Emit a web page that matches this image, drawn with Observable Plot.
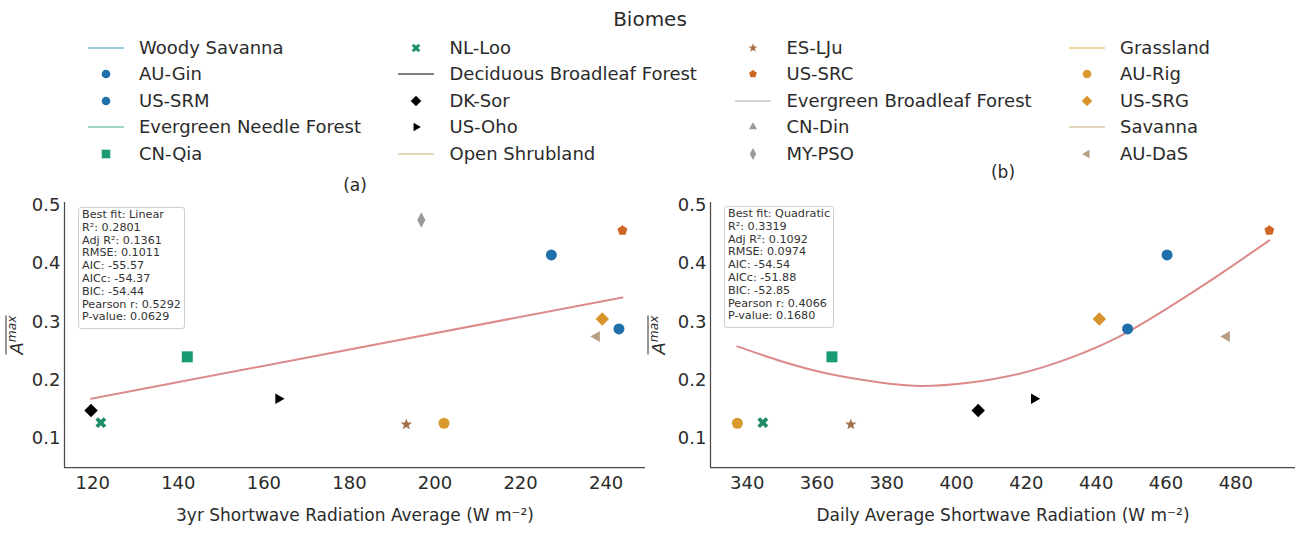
<!DOCTYPE html>
<html><head><meta charset="utf-8">
<script src="https://cdn.jsdelivr.net/npm/d3@7"></script>
<script src="https://cdn.jsdelivr.net/npm/@observablehq/plot@0.6"></script>
<style>
body{margin:0;background:#fff;font-family:"DejaVu Sans",sans-serif;color:#2b2b2b;}
#root{position:relative;width:1297px;height:537px;overflow:hidden;background:#fff;}
.abs{position:absolute;}
.stats{position:absolute;border:1px solid #cfcfcf;border-radius:3px;background:rgba(255,255,255,0.8);font-size:11.2px;line-height:12.8px;color:#333;padding:1px 3px 4px 3px;white-space:pre;}
.ylab{position:absolute;transform:translate(-50%,-50%) rotate(-90deg);font-size:18px;white-space:nowrap;color:#2b2b2b;}
.ylab span{display:inline-block;border-top:1.3px solid #2b2b2b;line-height:1;padding-top:1px;font-style:italic;}
.ylab sup{font-size:0.68em;vertical-align:0.55em;line-height:0;}
</style></head><body><div id="root"></div>
<script>
// ---- data ----
const sites    = ["AU-Gin","US-SRM","CN-Qia","NL-Loo","DK-Sor","US-Oho","ES-LJu","US-SRC","CN-Din","MY-PSO","AU-Rig","US-SRG","AU-DaS"];
const amax     = [0.415, 0.288, 0.240, 0.127, 0.148, 0.168, 0.124, 0.457, null, 0.475, 0.126, 0.305, 0.275];
const sw3yr    = [227.2, 243.0, 142.1, 121.9, 119.6, 163.4, 193.3, 243.8, null, 196.8, 202.1, 239.1, 237.8];
const swDaily  = [460.3, 449.0, 364.3, 344.5, 406.2, 422.2, 369.7, 489.6, null, null, 337.2, 440.9, 477.4];
const siteColors = ["#1f70aa","#1f70aa","#1a9a72","#1f8c69","#000000","#000000","#a2704a","#cf6524","#9a9a9a","#9a9a9a","#d89a2e","#d8932a","#b79e82"];
const siteShapes = ["circle","circle","square","x","diamond","triRight","star","pentagon","triUp","thinDiamond","circle","diamond","triLeft"];

const biomes = ["Woody Savanna","Evergreen Needle Forest","Deciduous Broadleaf Forest","Open Shrubland","Evergreen Broadleaf Forest","Grassland","Savanna"];
const biomeColors = ["#82b6d9","#7fc8b4","#555555","#e6c6a6","#c4c4c4","#efc583","#ddc7a9"];
const legendOrder = ["Woody Savanna","AU-Gin","US-SRM","Evergreen Needle Forest","CN-Qia",
  "NL-Loo","Deciduous Broadleaf Forest","DK-Sor","US-Oho","Open Shrubland",
  "ES-LJu","US-SRC","Evergreen Broadleaf Forest","CN-Din","MY-PSO",
  "Grassland","AU-Rig","US-SRG","Savanna","AU-DaS"];

const fitAx = [119.6, 243.8];
const fitAy = [0.168, 0.342];
const fitBx = [337.2, 350, 364, 378, 390, 404, 418, 432, 446, 460, 475, 489.6];
const fitBy = [0.258, 0.232, 0.210, 0.196, 0.190, 0.196, 0.211, 0.237, 0.273, 0.322, 0.380, 0.440];

const xTicksA = [120,140,160,180,200,220,240];
const xTicksB = [340,360,380,400,420,440,460,480];
const yTicks  = [0.1,0.2,0.3,0.4,0.5];

const statsA = ["Best fit: Linear","R²: 0.2801","Adj R²: 0.1361","RMSE: 0.1011","AIC: -55.57","AICc: -54.37","BIC: -54.44","Pearson r: 0.5292","P-value: 0.0629"];
const statsB = ["Best fit: Quadratic","R²: 0.3319","Adj R²: 0.1092","RMSE: 0.0974","AIC: -54.54","AICc: -51.88","BIC: -52.85","Pearson r: 0.4066","P-value: 0.1680"];

// ---- layout ----
const L = {
  legendColX: [105.5, 416, 753, 1086.5], legendRowY: [48, 74, 100.5, 127, 154], legendR: 4.3,
  panelTop: 165, panelH: 372
};

// ---- symbols ----
function mk(fn){ return {draw(ctx, size){ const r = Math.sqrt(size/Math.PI); fn(ctx, r); }}; }
function poly(c, pts){ c.moveTo(pts[0][0], pts[0][1]); for (let k=1;k<pts.length;k++) c.lineTo(pts[k][0], pts[k][1]); c.closePath(); }
function ngon(R, n, a0){ return d3.range(n).map(k=>{const a=a0+k*2*Math.PI/n; return [R*Math.cos(a), R*Math.sin(a)];}); }
const shapeTypes = {
  circle: mk((c,r)=>{ const R=r*1.0; c.moveTo(R,0); c.arc(0,0,R,0,2*Math.PI); }),
  square: mk((c,r)=>{ const h=r*1.0; c.rect(-h,-h,2*h,2*h); }),
  diamond: mk((c,r)=>{ const h=r*1.22; poly(c,[[0,-h],[h,0],[0,h],[-h,0]]); }),
  thinDiamond: mk((c,r)=>{ const w=r*0.75, h=r*1.4; poly(c,[[0,-h],[w,0],[0,h],[-w,0]]); }),
  pentagon: mk((c,r)=>{ poly(c, ngon(r*0.95, 5, -Math.PI/2)); }),
  star: mk((c,r)=>{ const R=r*1.08, q=R*0.42; poly(c, d3.range(10).map(k=>{const a=-Math.PI/2+k*Math.PI/5; const rr=k%2?q:R; return [rr*Math.cos(a), rr*Math.sin(a)];})); }),
  triUp: mk((c,r)=>{ poly(c, ngon(r*1.1, 3, -Math.PI/2)); }),
  triRight: mk((c,r)=>{ poly(c, ngon(r*1.12, 3, 0)); }),
  triLeft: mk((c,r)=>{ poly(c, ngon(r*1.15, 3, Math.PI)); }),
  x: mk((c,r)=>{ const Ll=r*1.06, t=r*0.34;
    const p=[[-t,-Ll],[t,-Ll],[t,-t],[Ll,-t],[Ll,t],[t,t],[t,Ll],[-t,Ll],[-t,t],[-Ll,t],[-Ll,-t],[-t,-t]];
    poly(c, p.map(([x,y])=>[(x-y)/Math.SQRT2,(x+y)/Math.SQRT2])); })
};

const root = d3.select("#root");

// ---- legend ----
root.append("div").attr("class","abs").style("left","550px").style("width","200px").style("top","7px")
  .style("text-align","center").style("font-size","20px").text("Biomes");
legendOrder.forEach((name,i)=>{
  const col=Math.floor(i/5), row=i%5;
  const cx=L.legendColX[col], cy=L.legendRowY[row];
  const g = root.append("div").attr("class","abs").style("left",(cx-18)+"px").style("top",(cy-11)+"px").style("height","22px").style("white-space","nowrap");
  const svg = g.append("svg").attr("width",36).attr("height",22).style("display","block");
  const bi = biomes.indexOf(name);
  if (bi>=0) svg.append("line").attr("x1",0).attr("x2",36).attr("y1",11).attr("y2",11).attr("stroke",biomeColors[bi]).attr("stroke-width",1.6);
  else {
    const si = sites.indexOf(name);
    svg.append("path").attr("transform","translate(18,11)")
      .attr("d", d3.symbol(shapeTypes[siteShapes[si]], Math.PI*L.legendR*L.legendR)()).attr("fill", siteColors[si]);
  }
  g.append("span").style("position","absolute").style("left","51.5px").style("top","0").style("line-height","22px")
    .style("font-size","18px").text(name);
});

// ---- panels ----
function panel(xs, cfg){
  const data = sites.map((s,i)=>({site:s, x:xs[i], y:amax[i]})).filter(d=>d.x!=null && d.y!=null);
  const fit = cfg.fx.map((x,i)=>({x, y:cfg.fy[i]}));
  return Plot.plot({
    width: cfg.width, height: L.panelH,
    marginLeft: cfg.ml, marginRight: cfg.mr, marginTop: 37, marginBottom: 70,
    style: {fontFamily:"DejaVu Sans", fontSize:"18px", color:"#2b2b2b", background:"transparent", overflow:"visible"},
    x: {domain: cfg.xdom},
    y: {domain: [0.05, 0.505]},
    symbol: {domain: sites, range: siteShapes.map(k=>shapeTypes[k])},
    color: {domain: sites, range: siteColors},
    marks: [
      Plot.ruleX([cfg.xdom[0]], {stroke:"#4a4a4a", strokeWidth:1.25}),
      Plot.ruleY([0.05], {stroke:"#4a4a4a", strokeWidth:1.25}),
      Plot.axisX({ticks: cfg.xticks, tickSize:0, tickPadding:9, fontSize:18, label:null, tickFormat: d=>String(d)}),
      Plot.axisY({ticks: yTicks, tickSize:0, tickPadding:4, fontSize:18, label:null, tickFormat: d=>d.toFixed(1)}),
      Plot.text([cfg.xlabel], {text:d=>d, frameAnchor:"bottom", dy:48, fontSize:17, lineAnchor:"middle"}),
      Plot.text([cfg.title], {text:d=>d, frameAnchor:"top", dy:cfg.tdy, fontSize:17, lineAnchor:"middle"}),
      Plot.line(fit, {x:"x", y:"y", stroke:"#dc8a8a", strokeWidth:2, curve:"natural"}),
      Plot.dot(data, {x:"x", y:"y", symbol:"site", fill:"site", r:5.5})
    ]
  });
}

const pa = panel(sw3yr, {width:650, ml:64, mr:5, xdom:[113.4, 249.2], xticks:xTicksA,
  xlabel:"3yr Shortwave Radiation Average (W m⁻²)", title:"(a)", tdy:-17, fx:fitAx, fy:fitAy});
const pb = panel(swDaily, {width:647, ml:60, mr:2, xdom:[329.5, 497.1], xticks:xTicksB,
  xlabel:"Daily Average Shortwave Radiation (W m⁻²)", title:"(b)", tdy:-30, fx:fitBx, fy:fitBy});

root.append("div").attr("class","abs").style("left","0px").style("top",L.panelTop+"px").node().appendChild(pa);
root.append("div").attr("class","abs").style("left","650px").style("top",L.panelTop+"px").node().appendChild(pb);

// ---- y labels ----
[[16,335],[658,335]].forEach(([x,y])=>{
  root.append("div").attr("class","ylab").style("left",x+"px").style("top",y+"px")
    .html('<span>A<sup>max</sup></span>');
});

// ---- stats boxes ----
root.append("div").attr("class","stats").style("left","78px").style("top","207px").text(statsA.join("\n"));
root.append("div").attr("class","stats").style("left","724px").style("top","206px").text(statsB.join("\n"));
</script>
</body></html>
